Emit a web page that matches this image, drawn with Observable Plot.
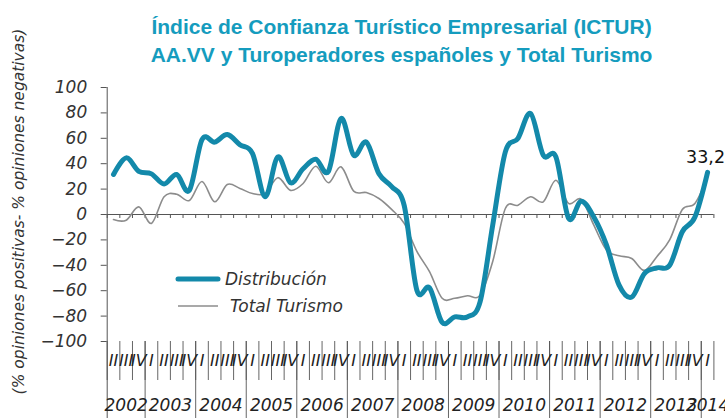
<!DOCTYPE html>
<html>
<head>
<meta charset="utf-8">
<script src="https://cdn.jsdelivr.net/npm/d3@7"></script>
<script src="https://cdn.jsdelivr.net/npm/@observablehq/plot@0.6"></script>
<style>
  html, body { margin: 0; padding: 0; background: #fff; }
  #chart { position: relative; width: 725px; height: 418px; }
</style>
</head>
<body>
<div id="chart"></div>
<script>
// ---- data ----
const titleLines = [
  "Índice de Confianza Turístico Empresarial (ICTUR)",
  "AA.VV y Turoperadores españoles y Total Turismo"
];
const yLabel = "(% opiniones positivas- % opiniones negativas)";
const years = [2002, 2003, 2004, 2005, 2006, 2007, 2008, 2009, 2010, 2011, 2012, 2013, 2014];
const quartersPerYear = [3, 4, 4, 4, 4, 4, 4, 4, 4, 4, 4, 4, 1];
const quarterNames = ["I", "II", "III", "IV"];
const firstQuarterIndex = [1, 0, 0, 0, 0, 0, 0, 0, 0, 0, 0, 0, 0];
const yTicks = [-100, -80, -60, -40, -20, 0, 20, 40, 60, 80, 100];
const seriesNames = ["Distribución", "Total Turismo"];

// 2002-II ... 2014-I
const distribucion = [31.5, 44.6, 34, 32, 24, 31.5, 19, 59, 57, 63, 55, 48,
  14, 45.4, 25, 36, 43.5, 34, 75.6, 46.7, 57, 32, 22, 7,
  -59.6, -57.7, -85, -80.6, -80.6, -68.8, -8.4, 49.3, 60, 79.5, 46.7, 45.4,
  -3, 10.5, -2, -24, -55.6, -65, -46.5, -42, -40, -13.6, -2, 33.2];
const totalTurismo = [-4, -4.5, 6, -7, 14, 16, 11, 26, 10, 23.6, 20.5, 16.5,
  16.5, 29, 19, 24.4, 38, 25, 37.5, 18.4, 17.3, 12.6, 4, -7,
  -29, -45, -66, -66, -64, -63.5, -37, 4.7, 7.3, 14, 10, 27,
  8.7, 12, -8.4, -28, -32.5, -34.6, -44, -33, -20, 4, 8.7, 29.7];

// ---- build tables ----
const rows = [];
const yearRows = [];
const yearStarts = [];
let k = 0;
years.forEach((yr, yi) => {
  const start = k;
  yearStarts.push(start);
  for (let q = 0; q < quartersPerYear[yi]; q++) {
    rows.push({i: k, label: quarterNames[firstQuarterIndex[yi] + q], dist: distribucion[k], total: totalTurismo[k]});
    k++;
  }
  yearRows.push({year: String(yr), center: start + quartersPerYear[yi] / 2});
});
const nCat = k;
const boundaries = d3.range(nCat + 1);
const yearBounds = yearStarts.slice(1);
const last = rows[rows.length - 1];

const TEAL = "#1389aa";
const GRAY = "#8c8c8c";
const AXIS = "#555";
const FONT = "DejaVu Sans, Verdana, sans-serif";
const TITLE_FONT = "Liberation Sans, Arial, sans-serif";

const plot = Plot.plot({
  width: 725,
  height: 418,
  marginTop: 87,
  marginBottom: 77,
  marginLeft: 106.7,
  marginRight: 11.6,
  style: {fontFamily: FONT, fontSize: "17px", background: "#fff", overflow: "visible"},
  x: {domain: [0, nCat], axis: null},
  y: {domain: [-100, 100], axis: null},
  marks: [
    // y axis
    Plot.axisY(yTicks, {tickSize: 6, tickPadding: 14, label: null, fontStyle: "italic", fontSize: 17, color: "#333", stroke: AXIS}),
    Plot.ruleX([0], {stroke: AXIS, insetBottom: -77}),
    // zero line with category ticks
    Plot.ruleY([0], {stroke: AXIS, strokeWidth: 1.2}),
    Plot.ruleX(boundaries, {x: d => d, y1: 0, y2: 0, insetBottom: -4, stroke: AXIS}),
    // category separators under the frame
    Plot.ruleX(boundaries, {x: d => d, insetTop: 254, insetBottom: -39, stroke: AXIS, strokeWidth: 0.9}),
    Plot.ruleX(yearBounds, {x: d => d, insetTop: 254, insetBottom: -77, stroke: AXIS, strokeWidth: 0.9}),
    // series
    Plot.line(rows, {x: d => d.i + 0.5, y: "total", stroke: GRAY, strokeWidth: 1.6, curve: "cardinal"}),
    Plot.line(rows, {x: d => d.i + 0.5, y: "dist", stroke: TEAL, strokeWidth: 5, curve: "cardinal", strokeLinecap: "round"}),
    // end label
    Plot.text([last], {x: d => d.i + 0.5, y: "dist", text: d => d.dist.toFixed(1).replace(".", ","), dx: -2, dy: -15, fontSize: 17.5, fill: "#111"}),
    // quarter labels
    Plot.text(rows, {x: d => d.i + 0.5, text: "label", frameAnchor: "bottom", dy: 24, fontSize: 16, fontStyle: "italic", fill: "#222"}),
    // year labels
    Plot.text(yearRows, {x: "center", text: "year", frameAnchor: "bottom", dy: 69, fontSize: 17, fontStyle: "italic", fill: "#222"}),
    // y label
    Plot.text([yLabel], {frameAnchor: "left", textAnchor: "middle", dx: -88, dy: -3, rotate: -90, fontSize: 15.5, fontStyle: "italic", fill: "#333"}),
    // title
    Plot.text([titleLines[0]], {frameAnchor: "top", dx: -9, dy: -68, fontSize: 21, fontWeight: "bold", fontFamily: TITLE_FONT, fill: "#159cbe"}),
    Plot.text([titleLines[1]], {frameAnchor: "top", dx: -9, dy: -40, fontSize: 21, fontWeight: "bold", fontFamily: TITLE_FONT, fill: "#159cbe"})
  ]
});

// force italics on axis tick labels
d3.select(plot).selectAll("g[aria-label='y-axis tick label'] text, g[aria-label='y-axis tick label']").attr("font-style", "italic");

// legend
const svg = d3.select(plot);
const legend = svg.append("g").attr("font-family", FONT).attr("font-size", 17).attr("font-style", "italic")
  .attr("fill", "#333").attr("text-anchor", "start");
const legendItems = [
  {name: seriesNames[0], color: TEAL, width: 5, y: 279, tx: 225},
  {name: seriesNames[1], color: GRAY, width: 1.6, y: 306, tx: 230}
];
legendItems.forEach(it => {
  legend.append("line").attr("x1", 178).attr("x2", 218).attr("y1", it.y).attr("y2", it.y)
    .attr("stroke", it.color).attr("stroke-width", it.width).attr("stroke-linecap", it.width > 2 ? "round" : "butt");
  legend.append("text").attr("x", it.tx).attr("y", it.y).attr("dy", "0.35em").text(it.name);
});

document.getElementById("chart").appendChild(plot);
</script>
</body>
</html>
